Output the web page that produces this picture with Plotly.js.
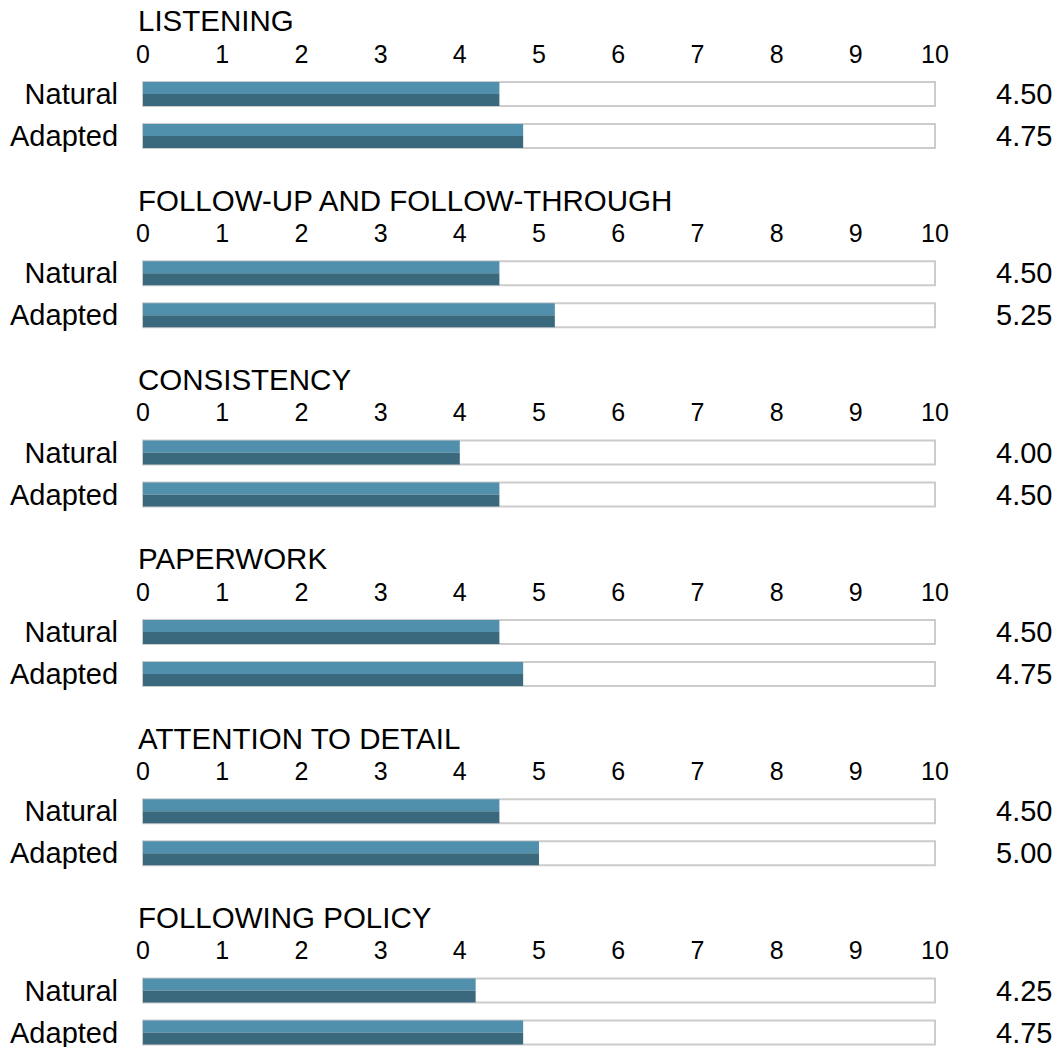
<!DOCTYPE html>
<html>
<head>
<meta charset="utf-8">
<script src="https://cdn.plot.ly/plotly-3.0.1.min.js"></script>
<style>html,body{margin:0;padding:0;background:#fff;}#chart{width:1060px;height:1047px;}</style>
</head>
<body>
<div id="chart"></div>
<script>
// ---- data ----
const sections = ["LISTENING", "FOLLOW-UP AND FOLLOW-THROUGH", "CONSISTENCY", "PAPERWORK", "ATTENTION TO DETAIL", "FOLLOWING POLICY"];
const rowLabels = ["Natural", "Adapted"];
// scores printed on the right
const naturalScores = [4.50, 4.50, 4.00, 4.50, 4.50, 4.25];
const adaptedScores = [4.75, 5.25, 4.50, 4.75, 5.00, 4.75];
// bar lengths as drawn in the picture (scores shown to one decimal)
const naturalBars = [4.5, 4.5, 4.0, 4.5, 4.5, 4.2];
const adaptedBars = [4.8, 5.2, 4.5, 4.8, 5.0, 4.8];
const scaleMax = 10;
const tickValues = [0, 1, 2, 3, 4, 5, 6, 7, 8, 9, 10];

// ---- layout geometry (pixels) ----
const W = 1060, H = 1047;
const x0px = 143, x10px = 935;
const pxPerUnit = (x10px - x0px) / scaleMax;
const xPad = 0.1;
const rowGap = 42;           // px between Natural and Adapted centres
const firstCentre = 94;      // px, centre of first Natural bar
const sectionStep = 179.3;   // px
const titleAbove = 73;       // px from Natural centre up to title centre
const yLo = -0.33, yHi = 1.6;
const boxW = 24 / rowGap;

const FONT = "Liberation Sans, Arial, sans-serif";
const light = "#5090ad", dark = "#3a687c", grey = "#cccccc";

const data = [];
const layout = {
  width: W, height: H,
  margin: {l: 0, r: 0, t: 0, b: 0},
  paper_bgcolor: "#ffffff", plot_bgcolor: "rgba(0,0,0,0)",
  showlegend: false, barmode: "overlay", hovermode: false,
  font: {family: FONT, color: "#000000"},
  annotations: []
};

const xDom = [(x0px - xPad * pxPerUnit) / W, (x10px + xPad * pxPerUnit) / W];

sections.forEach((title, k) => {
  const sfx = k === 0 ? "" : String(k + 1);
  const xa = "x" + sfx, ya = "y" + sfx;
  const nC = firstCentre + sectionStep * k;
  const aC = nC + rowGap;
  const topPx = nC - (yHi - 1) * rowGap;
  const botPx = aC - yLo * rowGap;
  const bars = [naturalBars[k], adaptedBars[k]];
  const scores = [naturalScores[k], adaptedScores[k]];
  const ys = [1, 0];

  data.push({type: "bar", orientation: "h", x: [scaleMax, scaleMax], y: ys, xaxis: xa, yaxis: ya,
    width: boxW, marker: {color: "#ffffff", line: {color: grey, width: 2}}, hoverinfo: "skip"});
  data.push({type: "bar", orientation: "h", x: bars, y: ys, xaxis: xa, yaxis: ya,
    width: boxW / 2, offset: 0, marker: {color: light, line: {width: 0}}, hoverinfo: "skip"});
  data.push({type: "bar", orientation: "h", x: bars, y: ys, xaxis: xa, yaxis: ya,
    width: boxW / 2, offset: -boxW / 2, marker: {color: dark, line: {width: 0}}, hoverinfo: "skip"});

  layout["xaxis" + sfx] = {
    domain: xDom, range: [-xPad, scaleMax + xPad], anchor: ya, side: "top",
    tickmode: "array", tickvals: tickValues, ticktext: tickValues.map(String),
    showgrid: false, zeroline: false, showline: false, ticks: "",
    ticklabeloverflow: "allow",
    tickfont: {size: 25, family: FONT, color: "#000"}, fixedrange: true
  };
  layout["yaxis" + sfx] = {
    domain: [Math.max(0, 1 - botPx / H), 1 - topPx / H], range: [yLo, yHi], anchor: xa,
    tickmode: "array", tickvals: ys, ticktext: rowLabels,
    showgrid: false, zeroline: false, showline: false, ticks: "",
    ticklabelstandoff: 16, ticklabeloverflow: "allow",
    tickfont: {size: 29, family: FONT, color: "#000"}, fixedrange: true
  };

  layout.annotations.push({
    xref: "paper", yref: "paper", x: x0px / W, y: 1 - (nC - titleAbove) / H,
    xanchor: "left", yanchor: "middle", xshift: -7,
    text: title, showarrow: false, font: {size: 29.5, family: FONT, color: "#000"}
  });
  scores.forEach((v, i) => {
    layout.annotations.push({
      xref: "paper", yref: ya, x: 1, y: ys[i], xanchor: "right", yanchor: "middle",
      xshift: -6, text: v.toFixed(2), showarrow: false, font: {size: 29, family: FONT, color: "#000"}
    });
  });
});

Plotly.newPlot("chart", data, layout, {displayModeBar: false, staticPlot: true});
</script>
</body>
</html>
